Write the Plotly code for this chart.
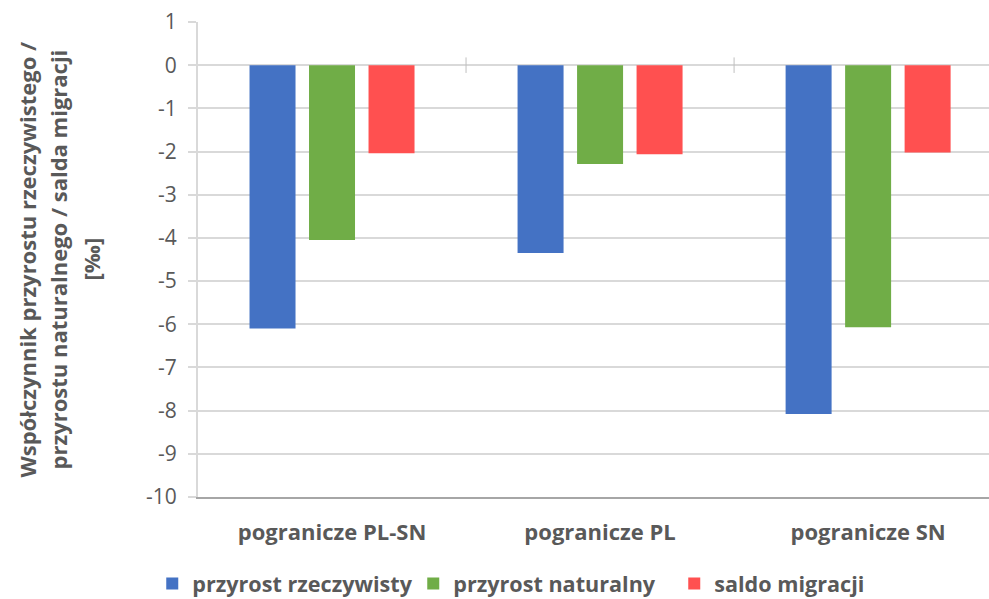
import plotly.graph_objects as go

categories = ["pogranicze PL-SN", "pogranicze PL", "pogranicze SN"]
series_names = ["przyrost rzeczywisty", "przyrost naturalny", "saldo migracji"]
przyrost_rzeczywisty = [-6.1, -4.35, -8.08]
przyrost_naturalny = [-4.05, -2.29, -6.07]
saldo_migracji = [-2.04, -2.06, -2.02]
colors = ["#4472C4", "#70AD47", "#FF5050"]
y_ticks = list(range(-10, 2))
y_tick_labels = [str(v) for v in y_ticks]
y_title_lines = ["Współczynnik przyrostu rzeczywistego /",
                 "przyrostu naturalnego / salda migracji",
                 "[‰]"]

fig = go.Figure()
for name, vals, col in zip(series_names,
                           [przyrost_rzeczywisty, przyrost_naturalny, saldo_migracji],
                           colors):
    fig.add_trace(go.Bar(x=categories, y=vals, name=name,
                         marker=dict(color=col, line=dict(width=0))))

gray = "#595959"
font_family = "Open Sans, Liberation Sans, sans-serif"

# small category divider ticks crossing the zero line
for xv in [0.5, 1.5]:
    fig.add_shape(type="line", xref="x", yref="y", x0=xv, x1=xv, y0=-0.18, y1=0.18,
                  line=dict(color="#BFBFBF", width=1))

# y-axis title, one rotated line per annotation
for line, xp in zip(y_title_lines, [-0.2174, -0.177, -0.1365]):
    fig.add_annotation(text=line, textangle=-90, xref="paper", yref="paper",
                       x=xp, y=0.5, xanchor="center", yanchor="middle",
                       showarrow=False, align="center",
                       font=dict(size=22, color=gray, family=font_family, weight="bold"))

fig.update_layout(
    width=989, height=599,
    margin=dict(l=198, r=0, t=22, b=102, autoexpand=False),
    paper_bgcolor="white", plot_bgcolor="white",
    barmode="group", bargap=0.334, bargroupgap=0.227,
    font=dict(family=font_family, color=gray),
    showlegend=True,
    legend=dict(orientation="h", xref="container", x=0.5498, xanchor="center",
                yref="paper", y=-0.183, yanchor="middle",
                font=dict(size=21.6, color=gray, family=font_family, weight="bold"),
                itemwidth=30, tracegroupgap=0, entrywidth=216, entrywidthmode="pixels"),
    xaxis=dict(range=[-0.5, 2.451], showgrid=False, showline=True, linecolor="#A6A6A6",
               linewidth=2, ticks="", tickfont=dict(size=22, color=gray, weight="bold"),
               ticklabelstandoff=15, fixedrange=True, automargin=False),
    yaxis=dict(range=[-10, 1], tickvals=y_ticks, ticktext=y_tick_labels,
               showgrid=True, gridcolor="#D9D9D9",
               gridwidth=2, zeroline=True, zerolinecolor="#D9D9D9", zerolinewidth=2,
               showline=True, linecolor="#D9D9D9", linewidth=2,
               ticks="outside", ticklen=8, tickcolor="#D9D9D9", tickwidth=2,
               ticklabelstandoff=7, fixedrange=True,
               tickfont=dict(size=21, color=gray), automargin=False),
)

fig.write_html("out.html", config={"displayModeBar": False},
               post_script="document.body.style.margin='0';")
